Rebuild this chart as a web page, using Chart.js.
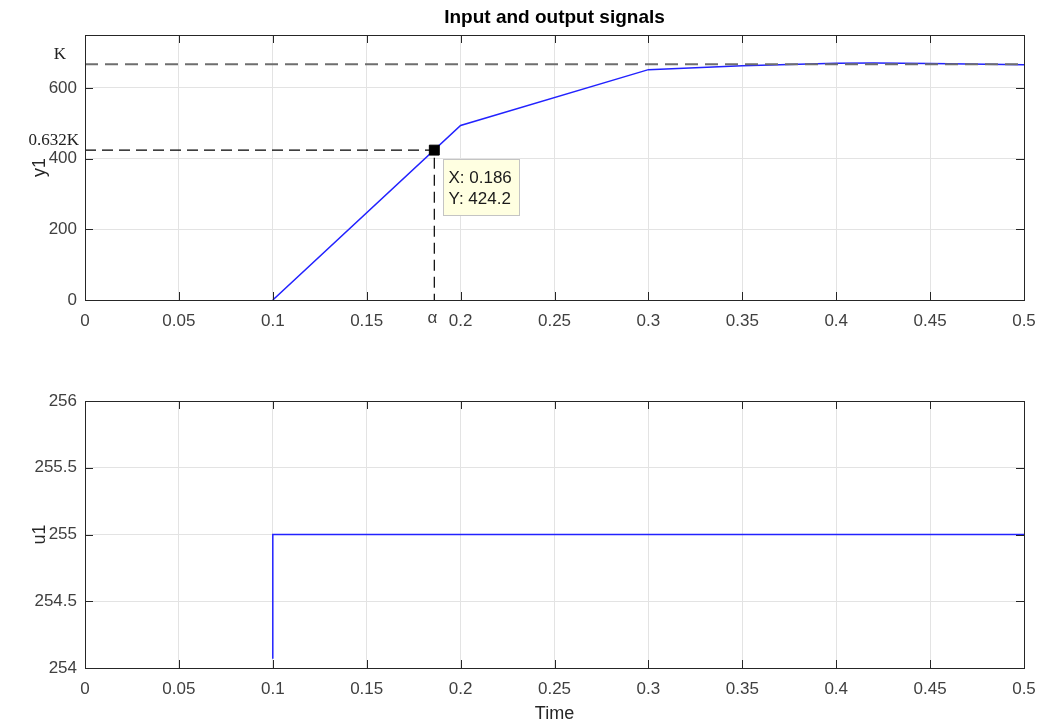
<!DOCTYPE html>
<html><head><meta charset="utf-8">
<script src="https://cdn.jsdelivr.net/npm/chart.js@4.4.0/dist/chart.umd.min.js"></script>
<style>
html,body{margin:0;padding:0;background:#fff;width:1042px;height:725px;overflow:hidden}
canvas{position:absolute;left:0}
</style></head><body>
<canvas id="c1" width="1042" height="345" style="top:0"></canvas>
<canvas id="c2" width="1042" height="380" style="top:345px"></canvas>
<script>
// ---- data ----
const chartTitle = 'Input and output signals';
const timeY1 = [0.1, 0.2, 0.3, 0.35, 0.4, 0.42, 0.45, 0.5];
const y1 = [0, 494, 652, 663, 670, 671, 669, 666];
const timeU1 = [0.1, 0.1, 0.5];
const u1 = [254.07, 255, 255];
const K = 667;
const alphaT = 0.186;
const alphaY = 424.2;
const kLabels = ['K', '0.632K'];
const alphaLabel = 'α';
const tipLines = ['X: 0.186', 'Y: 424.2'];

const SANS = '"Liberation Sans", Arial, sans-serif';
const SERIF = '"Liberation Serif", "Times New Roman", serif';
const TICKC = '#404040';
const fmt = v => String(+Number(v).toFixed(3));

function frameAndTicks(chart) {
  const {ctx, chartArea: a, scales} = chart;
  ctx.save();
  ctx.strokeStyle = '#262626';
  ctx.lineWidth = 1;
  const L = 8;
  const line = (x1, y1_, x2, y2) => { ctx.beginPath(); ctx.moveTo(x1, y1_); ctx.lineTo(x2, y2); ctx.stroke(); };
  scales.x.ticks.forEach(t => {
    const p = Math.round(scales.x.getPixelForValue(t.value)) + 0.5;
    line(p, a.bottom, p, a.bottom - L);
    line(p, a.top, p, a.top + L);
  });
  scales.y.ticks.forEach(t => {
    const p = Math.round(scales.y.getPixelForValue(t.value)) + 0.5;
    line(a.left, p, a.left + L, p);
    line(a.right, p, a.right - L, p);
  });
  ctx.strokeRect(Math.round(a.left) + 0.5, Math.round(a.top) + 0.5, Math.round(a.right - a.left), Math.round(a.bottom - a.top));
  ctx.restore();
}

const framePlugin = { id: 'frame', afterDraw(chart) { frameAndTicks(chart); } };

const topExtras = {
  id: 'topExtras',
  afterDraw(chart) {
    const {ctx, chartArea: a, scales} = chart;
    const xs = scales.x, ys = scales.y;
    ctx.save();
    // title
    ctx.fillStyle = '#000';
    ctx.font = 'bold 19px ' + SANS;
    ctx.textAlign = 'center';
    ctx.textBaseline = 'middle';
    ctx.fillText(chartTitle, (a.left + a.right) / 2, 18);
    // alpha label
    ctx.fillStyle = TICKC;
    ctx.font = '17px ' + SANS;
    ctx.fillText(alphaLabel, xs.getPixelForValue(alphaT) - 2, a.bottom + 18);
    // K labels
    ctx.font = '17px ' + SERIF;
    ctx.fillStyle = '#222';
    ctx.textAlign = 'center';
    ctx.fillText(kLabels[0], 60, ys.getPixelForValue(K) - 10);
    ctx.textAlign = 'right';
    ctx.fillText(kLabels[1], 79, ys.getPixelForValue(alphaY) - 10);
    // data tip
    const px = xs.getPixelForValue(alphaT), py = ys.getPixelForValue(alphaY);
    const bx = Math.round(px + 9) + 0.5, by = Math.round(py + 9) + 0.5;
    ctx.fillStyle = '#ffffe1';
    ctx.strokeStyle = '#c4c4c4';
    ctx.lineWidth = 1;
    ctx.fillRect(bx, by, 76, 56);
    ctx.strokeRect(bx, by, 76, 56);
    ctx.fillStyle = '#1a1a1a';
    ctx.font = '17px ' + SANS;
    ctx.textAlign = 'left';
    ctx.textBaseline = 'middle';
    ctx.fillText(tipLines[0], bx + 5, by + 19);
    ctx.fillText(tipLines[1], bx + 5, by + 40);
    ctx.restore();
  }
};

function xScale(h, title) {
  return {
    type: 'linear', min: 0, max: 0.5,
    afterFit: s => { s.height = h; s.paddingLeft = 0; s.paddingRight = 0; },
    border: { display: false },
    grid: { color: '#e3e3e3', drawTicks: false, lineWidth: 1 },
    ticks: { stepSize: 0.05, autoSkip: false, maxRotation: 0, padding: 11, color: TICKC,
             font: { family: SANS, size: 17 }, callback: fmt },
    title: title ? { display: true, text: title, color: '#262626', font: { family: SANS, size: 18 }, padding: { top: 0, bottom: 0 } } : { display: false }
  };
}
function yScale(min, max, step, title) {
  return {
    type: 'linear', min, max,
    afterFit: s => { s.width = 85; s.paddingTop = 0; s.paddingBottom = 0; },
    border: { display: false },
    grid: { color: '#e3e3e3', drawTicks: false, lineWidth: 1 },
    ticks: { stepSize: step, includeBounds: false, padding: 8, color: TICKC,
             font: { family: SANS, size: 17 }, callback: fmt },
    title: { display: true, text: title, color: '#262626', font: { family: SANS, size: 18 }, padding: { top: 29, bottom: 0 } }
  };
}
const common = {
  responsive: false, animation: false, devicePixelRatio: 1,
  plugins: { legend: { display: false }, tooltip: { enabled: false }, title: { display: false } },
  elements: { line: { tension: 0 } }
};

const pts = (xs, ys) => xs.map((x, i) => ({ x, y: ys[i] }));

new Chart(document.getElementById('c1'), {
  type: 'line',
  data: { datasets: [
    { data: [{ x: alphaT, y: alphaY }], showLine: false, pointStyle: 'rect', pointRadius: 7,
      backgroundColor: '#000', borderColor: '#000', borderWidth: 1 },
    { data: [{ x: 0, y: K }, { x: 0.5, y: K }], borderColor: '#6e6e6e', borderWidth: 2,
      borderDash: [13, 7], pointRadius: 0 },
    { data: [{ x: 0, y: alphaY }, { x: alphaT, y: alphaY }, { x: alphaT, y: 0 }], borderColor: '#000',
      borderWidth: 1.2, borderDash: [11, 6], pointRadius: 0 },
    { data: pts(timeY1, y1), borderColor: '#2222ff', borderWidth: 1.5, pointRadius: 0 }
  ] },
  options: Object.assign({}, common, {
    layout: { padding: { top: 35, right: 18, left: 0, bottom: 0 } },
    scales: { x: xScale(45, null), y: yScale(0, 750, 200, 'y1') }
  }),
  plugins: [framePlugin, topExtras]
});

new Chart(document.getElementById('c2'), {
  type: 'line',
  data: { datasets: [
    { data: pts(timeU1, u1), borderColor: '#2222ff', borderWidth: 1.5, pointRadius: 0 }
  ] },
  options: Object.assign({}, common, {
    layout: { padding: { top: 56, right: 18, left: 0, bottom: 0 } },
    scales: { x: xScale(57, 'Time'), y: yScale(254, 256, 0.5, 'u1') }
  }),
  plugins: [framePlugin]
});
</script>
</body></html>
